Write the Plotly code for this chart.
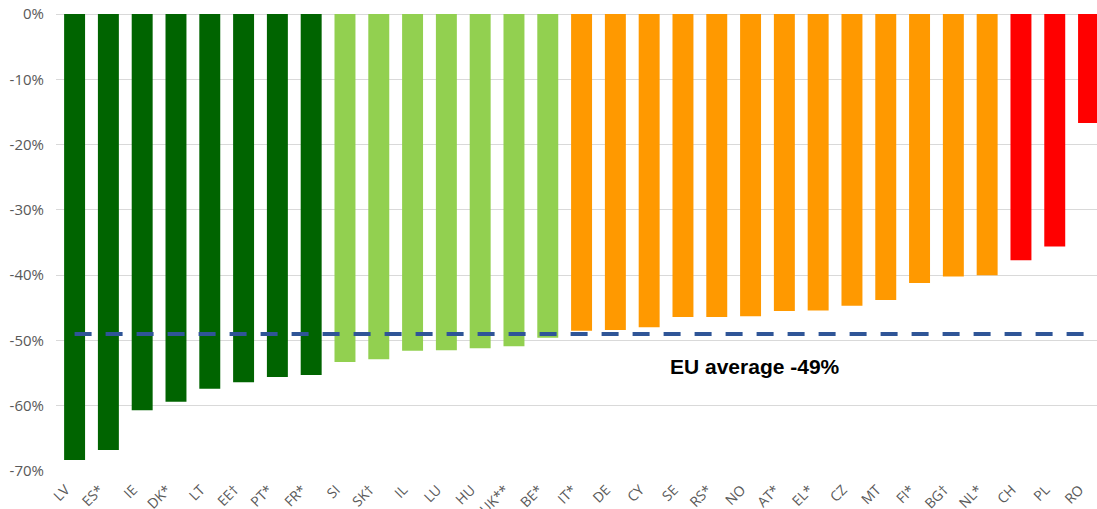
import plotly.graph_objects as go

countries = ["LV", "ES*", "IE", "DK*", "LT", "EE\u2020", "PT*", "FR*", "SI", "SK\u2020",
             "IL", "LU", "HU", "UK**", "BE*", "IT*", "DE", "CY", "SE", "RS*",
             "NO", "AT*", "EL*", "CZ", "MT", "FI*", "BG\u2020", "NL*", "CH", "PL", "RO"]
values = [-68.3, -66.8, -60.7, -59.4, -57.4, -56.4, -55.6, -55.3, -53.3, -52.9,
          -51.6, -51.5, -51.2, -50.9, -49.6, -48.5, -48.4, -48.0, -46.4, -46.4,
          -46.3, -45.5, -45.4, -44.7, -43.8, -41.2, -40.2, -40.0, -37.7, -35.6, -16.7]
groups = ["dark"] * 8 + ["light"] * 7 + ["orange"] * 13 + ["red"] * 3
eu_average = -49.0
y_ticks = [0, -10, -20, -30, -40, -50, -60, -70]
y_tick_labels = ["0%", "-10%", "-20%", "-30%", "-40%", "-50%", "-60%", "-70%"]

palette = {"dark": "#006400", "light": "#92D050", "orange": "#FF9900", "red": "#FF0000"}
colors = [palette[g] for g in groups]

fig = go.Figure()
fig.add_trace(go.Bar(x=countries, y=values, marker_color=colors, marker_line_width=0,
                     showlegend=False, hoverinfo="x+y"))
fig.add_trace(go.Scatter(x=countries, y=[eu_average] * len(countries), mode="lines",
                         line=dict(color="#2F5597", width=4, dash="17px,14px"),
                         showlegend=False, hoverinfo="skip"))

fig.add_annotation(x=0.671, xref="paper", xanchor="center", y=-54, yref="y",
                   text="<b>EU average -49%</b>", showarrow=False,
                   font=dict(family="Liberation Sans, Arial", size=21, color="#000000"))

fig.update_layout(
    width=1097, height=509,
    margin=dict(l=56, r=0, t=14, b=38),
    paper_bgcolor="white", plot_bgcolor="white",
    bargap=0.38,
    xaxis=dict(range=[-0.55, 30.25], tickangle=-45, automargin=False,
               tickfont=dict(family="Open Sans, Noto Sans", size=14, color="#595959"),
               showgrid=False, showline=False, ticks="",
               ticklabelshift=-9, ticklabelstandoff=7),
    yaxis=dict(range=[-70, 0], tickvals=y_ticks, ticktext=y_tick_labels, automargin=False,
               tickfont=dict(family="Open Sans, Noto Sans", size=15, color="#595959"),
               showgrid=True, gridcolor="#D9D9D9", gridwidth=1,
               zeroline=True, zerolinecolor="#D9D9D9", zerolinewidth=1,
               ticklabelstandoff=11),
)

fig.write_html("out.html", post_script="document.body.style.margin='0px';",
               config={"displayModeBar": False})
